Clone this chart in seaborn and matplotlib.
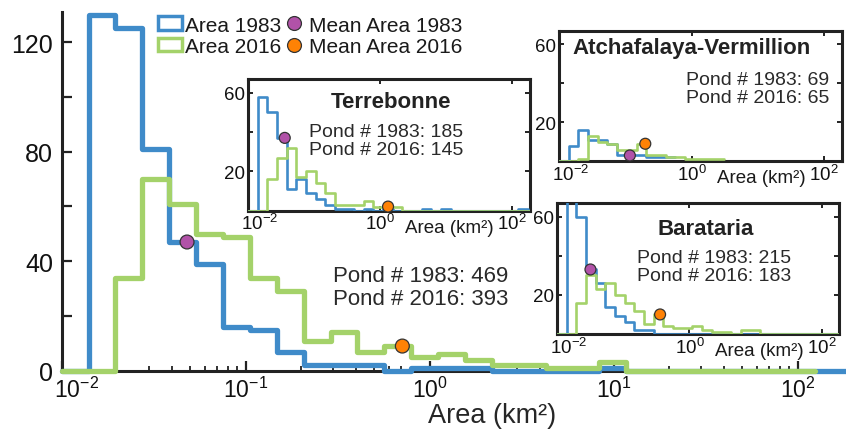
import numpy as np
import matplotlib
matplotlib.use("Agg")
import matplotlib.pyplot as plt
import matplotlib.transforms as mtransforms
from matplotlib.patches import Patch
from matplotlib.lines import Line2D
from matplotlib.ticker import FixedLocator, LogLocator, NullFormatter, NullLocator, LogFormatterSciNotation
import seaborn as sns

# ------------------------------------------------------------
# data: pond counts per log bin (edges 0.01 km2 x 1.4^k)
# ------------------------------------------------------------
bin_start = 0.01
bin_ratio = 1.4

# all ponds
main_1983 = [0, 130, 125, 81, 47, 39, 16, 15, 7, 2, 2, 2, 0, 1, 1, 1, 0, 0, 0, 0,
             1, 0, 0, 0, 0, 0, 0, 0, 0, 0]
main_2016 = [0, 0, 34, 70, 61, 50, 49, 34, 29, 11, 14, 7, 9, 5, 6, 4, 2, 2, 1, 1,
             3, 0, 0, 0, 0, 0, 0, 0]
main_mean_x = [0.048, 0.71]
main_mean_y = [47, 9]
main_counts = ["Pond # 1983: 469", "Pond # 2016: 393"]

# Terrebonne
terr_1983 = [0, 58, 50, 37, 11, 16, 9, 6, 3, 1, 1, 0, 1, 0, 1, 0, 0, 0, 1, 0,
             1, 0, 0, 0, 0, 0, 0, 0, 1, 0]
terr_2016 = [0, 0, 16, 27, 32, 17, 20, 14, 9, 3, 3, 3, 5, 2, 2, 2, 0, 0, 0, 0,
             0, 0, 0, 0, 0, 0, 0, 0, 0, 0]
terr_mean_x = [0.036, 1.32]
terr_mean_y = [37, 2]
terr_counts = ["Pond # 1983: 185", "Pond # 2016: 145"]

# Atchafalaya-Vermillion
atch_1983 = [0, 8, 16, 11, 11, 9, 3, 3, 3, 2, 2, 2]
atch_2016 = [0, 0, 1, 13, 10, 9, 6, 6, 9, 3, 3, 2, 2, 1, 1, 1, 1]
atch_mean_x = [0.117, 0.20]
atch_mean_y = [3, 9]
atch_counts = ["Pond # 1983: 69", "Pond # 2016: 65"]

# Barataria
bara_1983 = [0, 70, 60, 33, 26, 14, 9, 6, 2, 2, 0, 0, 0, 0, 0, 0, 0, 0, 0, 0,
             0, 0, 0, 0, 0, 0, 0, 0, 0, 0]
bara_2016 = [0, 0, 16, 30, 23, 26, 20, 16, 12, 5, 10, 4, 3, 3, 4, 2, 1, 1, 0, 2,
             2, 0, 0, 0, 0, 0, 0, 0, 0, 0]
bara_mean_x = [0.032, 0.36]
bara_mean_y = [33, 10]
bara_counts = ["Pond # 1983: 215", "Pond # 2016: 183"]

years = ["1983", "2016"]
c1983 = "#3F8BC9"
c2016 = "#A4D26A"
cmean = ["#B152A8", "#FF8205"]
ink = "#222222"

sns.set_style("ticks")
plt.rcParams["font.family"] = ["Liberation Sans", "DejaVu Sans"]
plt.rcParams["axes.edgecolor"] = ink
plt.rcParams["text.color"] = "#1a1a1a"
plt.rcParams["xtick.color"] = ink
plt.rcParams["ytick.color"] = ink
plt.rcParams["xtick.labelcolor"] = "#111111"
plt.rcParams["ytick.labelcolor"] = "#111111"

W, H = 846, 435
fig = plt.figure(figsize=(W / 100, H / 100), dpi=100)
XMAX = 183


def add_axes_px(left, top, right, bottom):
    return fig.add_axes([left / W, 1 - bottom / H, (right - left) / W, (bottom - top) / H])


def draw_hist(ax, counts, color, lw, clip):
    n = len(counts)
    edges = bin_start * bin_ratio ** np.arange(n + 1)
    centers = np.sqrt(edges[:-1] * edges[1:])
    sns.histplot(x=centers, weights=counts, bins=list(np.log10(edges)), element="step",
                 fill=False, color=color, linewidth=lw, ax=ax, zorder=3, clip_on=clip)


def draw_means(ax, mx, my, size, clip):
    sns.scatterplot(x=mx, y=my, hue=years, palette=cmean, s=size, edgecolor="#333333",
                    linewidth=0.9, legend=False, ax=ax, zorder=5, clip_on=clip)


def nudge_first_xlabel(ax, dx):
    # first decade label sits a bit right of the y axis, as in the source figure
    lab = ax.xaxis.get_major_ticks()[0].label1
    lab.set_transform(lab.get_transform()
                      + mtransforms.ScaledTranslation(dx / 100, 0, fig.dpi_scale_trans))


# ------------------------------------------------------------
# main panel
# ------------------------------------------------------------
ax = add_axes_px(61.7, 13, 846, 371.7)
ax.set_xscale("log")
draw_hist(ax, main_1983, c1983, 3.8, False)
draw_hist(ax, main_2016, c2016, 3.8, False)
draw_means(ax, main_mean_x, main_mean_y, 100, False)
ax.set_xlim(0.01, XMAX)
ax.set_ylim(0, 131)
ax.xaxis.set_major_locator(FixedLocator([1e-2, 1e-1, 1, 10, 100]))
ax.xaxis.set_major_formatter(LogFormatterSciNotation())
ax.xaxis.set_minor_locator(LogLocator(base=10, subs=np.arange(2, 10), numticks=20))
ax.xaxis.set_minor_formatter(NullFormatter())
ax.set_yticks(np.arange(0, 121, 20))
ax.set_yticklabels(["0", "", "40", "", "80", "", "120"])
ax.tick_params(which="major", direction="in", length=7, width=1.6, labelsize=18)
ax.tick_params(axis="x", labelsize=16.5, pad=4)
ax.tick_params(axis="y", pad=6)
ax.tick_params(which="minor", direction="in", length=3.5, width=1.3)
sns.despine(ax=ax)
for s in ["left", "bottom"]:
    ax.spines[s].set_linewidth(2.2)
ax.set_ylabel("")
ax.set_xlabel("Area (km²)", fontsize=19.5)
ax.xaxis.set_label_coords((492.5 - 61.7) / 784.3, -0.087)
ax.text(0.458, 0.251, main_counts[0], transform=ax.transAxes, ha="center",
        va="baseline", fontsize=16, color="#2a2a2a")
ax.text(0.458, 0.186, main_counts[1], transform=ax.transAxes, ha="center",
        va="baseline", fontsize=16, color="#2a2a2a")

handles = [
    Patch(facecolor="white", edgecolor=c1983, linewidth=2.5, label="Area 1983"),
    Patch(facecolor="white", edgecolor=c2016, linewidth=2.5, label="Area 2016"),
    Line2D([], [], ls="none", marker="o", markersize=10, markerfacecolor=cmean[0],
           markeredgecolor="#333333", markeredgewidth=0.9, label="Mean Area 1983"),
    Line2D([], [], ls="none", marker="o", markersize=10, markerfacecolor=cmean[1],
           markeredgecolor="#333333", markeredgewidth=0.9, label="Mean Area 2016"),
]
ax.legend(handles=handles, ncol=2, loc="upper left", bbox_to_anchor=(158 / W, 1 - 16.5 / H),
          bbox_transform=fig.transFigure, frameon=False, fontsize=15, borderpad=0,
          borderaxespad=0, handlelength=1.15, handleheight=0.62, handletextpad=0.15,
          columnspacing=0.05, labelspacing=0.11)
nudge_first_xlabel(ax, 15)


# ------------------------------------------------------------
# insets
# ------------------------------------------------------------
def inset(box, c83, c16, mx, my, title, counts, tpos, cpos):
    l, t, r, b = box
    a = add_axes_px(l, t, r, b)
    a.set_xscale("log")
    draw_hist(a, c83, c1983, 1.9, True)
    draw_hist(a, c16, c2016, 1.9, True)
    draw_means(a, mx, my, 62, False)
    a.set_xlim(0.01, XMAX)
    a.set_ylim(0, 67)
    a.xaxis.set_major_locator(FixedLocator([1e-2, 1, 100]))
    a.xaxis.set_major_formatter(LogFormatterSciNotation())
    a.xaxis.set_minor_locator(NullLocator())
    a.set_yticks([20, 40, 60])
    a.set_yticklabels(["20", "", "60"])
    a.tick_params(direction="in", top=True, right=True, length=3.5, width=1.4,
                  labelsize=13.5, pad=2)
    for s in a.spines.values():
        s.set_linewidth(2.2)
    a.set_xlabel("")
    a.set_ylabel("")

    def fx(x):
        return (x - l) / (r - l)

    def fy(y):
        return (b - y) / (b - t)

    a.text(0.715, -0.16, "Area (km²)", transform=a.transAxes, ha="center",
           va="baseline", fontsize=13.5, color="#1a1a1a")
    a.text(fx(tpos[0]), fy(tpos[1]), title, transform=a.transAxes, ha="center",
           va="baseline", fontsize=16, fontweight="bold", color="#222222")
    a.text(fx(cpos[0]), fy(cpos[1]), counts[0], transform=a.transAxes, ha="center",
           va="baseline", fontsize=14, color="#2a2a2a")
    a.text(fx(cpos[0]), fy(cpos[2]), counts[1], transform=a.transAxes, ha="center",
           va="baseline", fontsize=14, color="#2a2a2a")
    nudge_first_xlabel(a, 12)
    return a


inset((248, 80, 529.5, 211.5), terr_1983, terr_2016, terr_mean_x, terr_mean_y,
      "Terrebonne", terr_counts, (391, 108.3), (386, 136.7, 155))
inset((559, 31.7, 841.7, 162.3), atch_1983, atch_2016, atch_mean_x, atch_mean_y,
      "Atchafalaya-Vermillion", atch_counts, (691.7, 54), (758, 85, 103.3))
inset((557, 204, 839.3, 335), bara_1983, bara_2016, bara_mean_x, bara_mean_y,
      "Barataria", bara_counts, (705.8, 235), (714, 263.3, 280.7))

fig.savefig("out.png", dpi=100)
